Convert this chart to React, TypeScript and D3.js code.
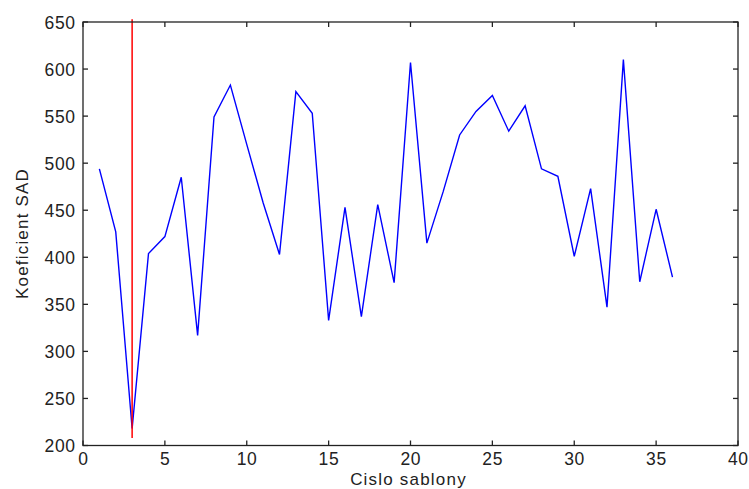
import React from "react";
import * as d3 from "d3";

const xValues = [1,2,3,4,5,6,7,8,9,10,11,12,13,14,15,16,17,18,19,20,21,22,23,24,25,26,27,28,29,30,31,32,33,34,35,36];
const sadValues = [494,427,218,404,422,485,317,549,583,520,458,403,576,553,333,453,337,456,373,607,415,470,530,555,572,534,561,494,486,401,473,347,610,374,451,379];
const markerX = 3;
const markerRange = [208, 653];
const xTicks = [0,5,10,15,20,25,30,35,40];
const yTicks = [200,250,300,350,400,450,500,550,600,650];

export default function App() {
  const W = 749, H = 489;
  const L = 83, R = 738, T = 22, B = 445.5;
  const x = d3.scaleLinear().domain([0, 40]).range([L, R]);
  const y = d3.scaleLinear().domain([200, 650]).range([B, T]);
  const line = d3.line<number>().x((_, i) => x(xValues[i])).y((d) => y(d));
  const tl = 5;
  const font = "'Liberation Sans', Arial, sans-serif";
  return (
    <svg width={W} height={H} style={{ position: "absolute", left: 0, top: 0, background: "#fff" }}>
      <rect x={0} y={0} width={W} height={H} fill="#fff" />
      <path d={line(sadValues) || ""} fill="none" stroke="#0000ff" strokeWidth={1.4} />
      <line x1={x(markerX)} x2={x(markerX)} y1={y(markerRange[0])} y2={y(markerRange[1])} stroke="#ff0000" strokeWidth={1.5} />
      <rect x={L} y={T} width={R - L} height={B - T} fill="none" stroke="#222" strokeWidth={1.3} />
      {xTicks.map((t) => (
        <g key={"x" + t}>
          <line x1={x(t)} x2={x(t)} y1={B} y2={B - tl} stroke="#222" strokeWidth={1.3} />
          <line x1={x(t)} x2={x(t)} y1={T} y2={T + tl} stroke="#222" strokeWidth={1.3} />
          <text x={x(t) + 0.3} y={B + 19.5} textAnchor="middle" fontFamily={font} fontSize={17.5} letterSpacing={0.6} fill="#222">{t}</text>
        </g>
      ))}
      {yTicks.map((t) => (
        <g key={"y" + t}>
          <line x1={L} x2={L + tl} y1={y(t)} y2={y(t)} stroke="#222" strokeWidth={1.3} />
          <line x1={R} x2={R - tl} y1={y(t)} y2={y(t)} stroke="#222" strokeWidth={1.3} />
          <text x={L - 7.4} y={y(t) + 6.5} textAnchor="end" fontFamily={font} fontSize={17.5} letterSpacing={0.6} fill="#222">{t}</text>
        </g>
      ))}
      <text x={408.5} y={485} textAnchor="middle" fontFamily={font} fontSize={17} letterSpacing={1.2} fill="#222">Cislo sablony</text>
      <text transform={`translate(28, 233.5) rotate(-90)`} textAnchor="middle" fontFamily={font} fontSize={17} letterSpacing={1.2} fill="#222">Koeficient SAD</text>
    </svg>
  );
}
